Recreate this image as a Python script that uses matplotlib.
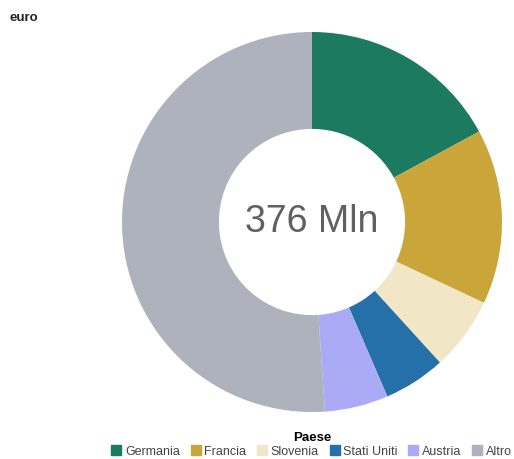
import matplotlib
matplotlib.use("Agg")
import matplotlib.pyplot as plt
from matplotlib.lines import Line2D

categories = ["Germania", "Francia", "Slovenia", "Stati Uniti", "Austria", "Altro"]
values = [64.3, 56.0, 23.5, 19.8, 20.3, 192.1]
colors = ["#1b7a5f", "#c9a53a", "#f1e6c6", "#2570a9", "#aaaaf6", "#adb2bd"]
center_label = "376 Mln"
unit_label = "euro"
legend_title = "Paese"

plt.rcParams['font.family'] = ['Liberation Sans', 'DejaVu Sans']

W, H = 514, 459
fig = plt.figure(figsize=(W/100, H/100), dpi=100)
cx, cy, r = 312, 222, 190
ax = fig.add_axes([(cx - r)/W, (H - cy - r)/H, 2*r/W, 2*r/H])
ax.pie(values, colors=colors, startangle=90, counterclock=False, radius=1.0,
       wedgeprops=dict(width=0.51, linewidth=0))
ax.set_xlim(-1, 1)
ax.set_ylim(-1, 1)
ax.set_aspect('equal')
ax.axis('off')
ax.text(0, 0, center_label, ha='center', va='center', fontsize=27, color='#606060')

fig.text(10/W, 1 - 18/H, unit_label, ha='left', va='center', fontsize=9.5, fontweight='bold', color='#222222')

handles = [Line2D([0], [0], marker='s', linestyle='none', markersize=7,
                  markerfacecolor=c, markeredgecolor=c) for c in colors]
leg = fig.legend(handles, categories, loc='center', bbox_to_anchor=(312/W, 1 - 445/H),
                 ncol=6, frameon=False, fontsize=9, title=legend_title,
                 title_fontproperties={'weight': 'bold', 'size': 9.5},
                 handlelength=0.7, handletextpad=0.35, columnspacing=0.9,
                 borderpad=0, labelspacing=0.1, borderaxespad=0)
for t in leg.get_texts():
    t.set_color('#444444')

fig.savefig("out.png", dpi=100, facecolor='white')
